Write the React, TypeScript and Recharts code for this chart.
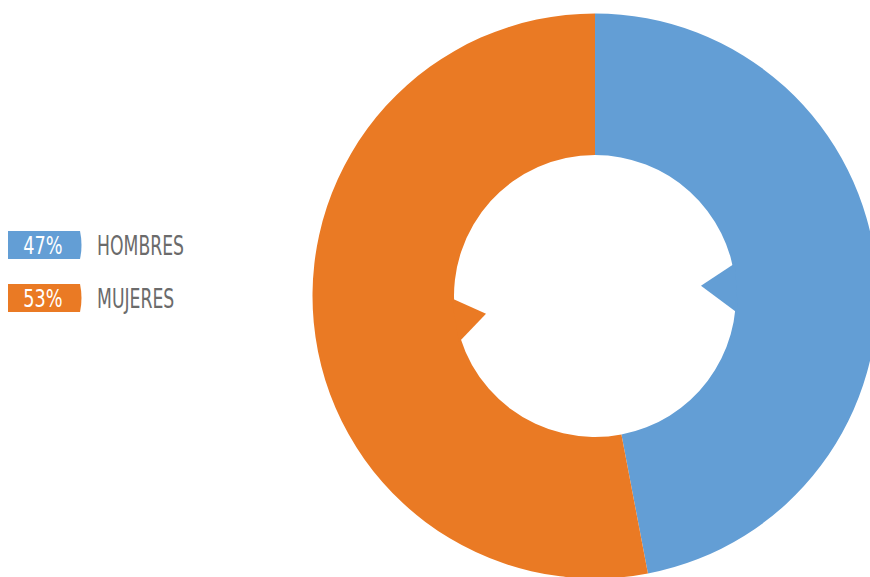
import React from 'react';
import { PieChart, Pie, Cell, Sector } from 'recharts';

const categories = ['HOMBRES', 'MUJERES'];
const values = [47, 53];
const colors = ['#639ed5', '#ea7a24'];

const data = categories.map((name, i) => ({ name, value: values[i] }));
const total = values.reduce((a, b) => a + b, 0);

const RAD = Math.PI / 180;

// tooth shape style per slice: angle offsets (deg) relative to midAngle, tip radius ratio
const toothStyles = [
  { tip: 0.1, a: 7.3, b: -11.6, r: 0.755 },
  { tip: 3.8, a: -4.0, b: 12.7, r: 0.783 },
];

const ToothSector = (props: any) => {
  const { cx, cy, innerRadius, midAngle, fill, index } = props;
  const st = toothStyles[index ?? 0] || toothStyles[0];
  const pt = (r: number, a: number) => [cx + r * Math.cos(-a * RAD), cy + r * Math.sin(-a * RAD)];
  const tip = pt(innerRadius * st.r, midAngle + st.tip);
  const c1 = pt(innerRadius, midAngle + st.a);
  const c2 = pt(innerRadius, midAngle + st.b);
  const ext = (c: number[]) => [tip[0] + (c[0] - tip[0]) * 1.08, tip[1] + (c[1] - tip[1]) * 1.08];
  const e1 = ext(c1);
  const e2 = ext(c2);
  return (
    <g>
      <Sector {...props} />
      <polygon points={`${e1[0]},${e1[1]} ${tip[0]},${tip[1]} ${e2[0]},${e2[1]}`} fill={fill} />
    </g>
  );
};

const LegendContent = () => (
  <svg width={200} height={90} style={{ display: 'block' }}>
    {categories.map((name, i) => {
      const y = i * 53;
      const pct = Math.round((values[i] / total) * 100);
      return (
        <g key={name} transform={`translate(0,${y})`}>
          <path d="M0,0 L72,0 Q75,14 72,28 L0,28 Z" fill={colors[i]} />
          <text
            transform="translate(35,23) scale(0.82,1)"
            textAnchor="middle"
            fontSize={24}
            fill="#ffffff"
            fontFamily="'Liberation Sans Narrow', 'DejaVu Sans Condensed', sans-serif"
          >
            {pct}%
          </text>
          <text
            transform="translate(89,24) scale(0.71,1)"
            fontSize={27}
            fill="#6b6b6b"
            fontFamily="'Liberation Sans Narrow', 'DejaVu Sans Condensed', sans-serif"
          >
            {name}
          </text>
        </g>
      );
    })}
  </svg>
);

export default function App() {
  return (
    <div style={{ position: 'absolute', left: 0, top: 0, width: 870, height: 577, background: '#ffffff' }}>
      <PieChart width={870} height={577} margin={{ top: 0, right: 0, bottom: 0, left: 0 }}>
        <Pie
          data={data}
          dataKey="value"
          nameKey="name"
          cx={595}
          cy={296}
          outerRadius={282.5}
          innerRadius={141}
          startAngle={90}
          endAngle={-270}
          stroke="none"
          isAnimationActive={false}
          shape={ToothSector}
        >
          {data.map((d, i) => (
            <Cell key={d.name} fill={colors[i]} />
          ))}
        </Pie>
      </PieChart>
      <div style={{ position: 'absolute', left: 8, top: 231 }}>
        <LegendContent />
      </div>
    </div>
  );
}
